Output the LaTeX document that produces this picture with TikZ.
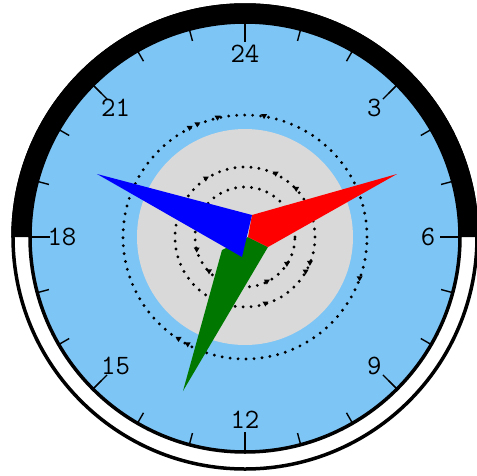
\documentclass[tikz,border=0pt]{standalone}
\usepackage{fontspec}
\usepackage{xcolor}
\usepackage{tikz}
\definecolor{faceblue}{RGB}{125,197,245}
\definecolor{discgrey}{RGB}{217,217,217}
\definecolor{handgreen}{RGB}{0,120,0}

\begin{document}
\begin{tikzpicture}[x=1pt,y=1pt,
  every node/.style={font=\ttfamily\fontsize{28}{28}\selectfont,inner sep=0pt},
  tick/.style={draw=black,line width=1.4pt},
  rim/.style={draw=black,line width=3.5pt},
  dots/.style={draw=black,line width=3.2pt,dash pattern=on 0pt off 8pt,line cap=round},
  marker/.style={fill=black}
]
\def\rin{215}                                  % face radius
\def\rout{232}                                 % bezel radius
\useasboundingbox (-245,-238) rectangle (232,237);
\fill[white] (-245,-238) rectangle (232,237);

% bezel: black upper half, white lower half
\fill[white] (0,0) circle (\rout);
\fill[black] (\rout+1.75,0) arc[start angle=0,end angle=180,radius=\rout+1.75]
  -- (-\rin,0) arc[start angle=180,end angle=0,radius=\rin] -- cycle;
\draw[rim] (0,0) circle (\rout);
\fill[faceblue] (0,0) circle (\rin);
\draw[rim] (0,0) circle (\rin);

% hour ticks and labels
\foreach \a in {0,15,...,345}
  \draw[tick] (\a:\rin-1) -- (\a:203);
\foreach \h in {0,3,...,21}
  \draw[tick] ({90-15*\h}:\rin-1) -- ({90-15*\h}:195);
\foreach \h/\t in {0/24,3/3,6/6,9/9,12/12,15/15,18/18,21/21}
  \node (h\t) at ({90-15*\h}:183) {\t};

% inner disc and dotted rings
\fill[discgrey] (0,0) circle (108);
\foreach \r in {50,70,122}
  \draw[dots] (0,0) circle (\r);
\foreach \r/\a in {122/103,122/81,122/113,122/117,122/-20,122/237,122/242,
                   70/124,70/64,70/43,70/-22,70/-30,70/-73,
                   50/-33,50/-64,50/195,50/224}
  \fill[marker] ([shift={(\a:\r)}]-3,2.4) -- ++(6,0) -- ++(-3,-5) -- cycle;

% hands
\fill[handgreen] (-62,-154) -- (-23,-13) -- (3,0) -- (23,-10) -- cycle;
\fill[red] (152,63) -- (7,22) -- (3,0) -- (23,-10) -- cycle;
\fill[blue] (-148,63) -- (7,22) -- (-3,-20) -- cycle;
\end{tikzpicture}
\end{document}
